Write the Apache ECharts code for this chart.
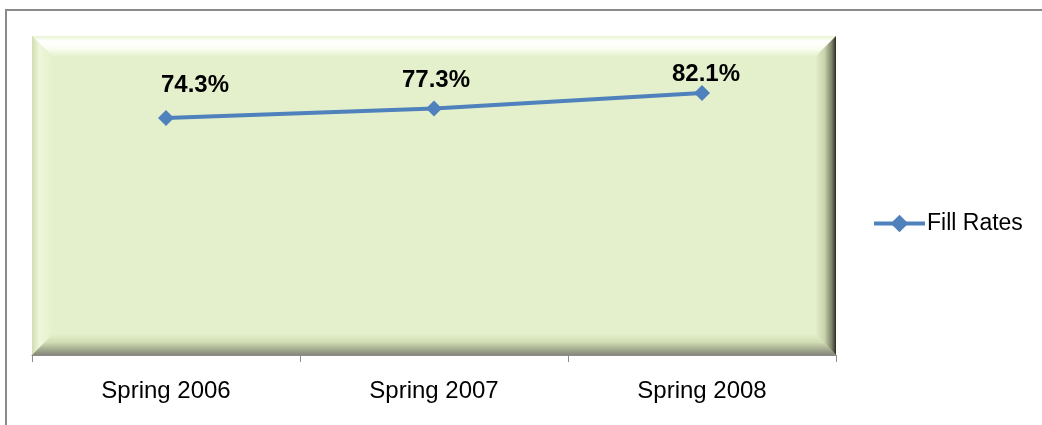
<!DOCTYPE html>
<html>
<head>
<meta charset="utf-8">
<script src="https://cdn.jsdelivr.net/npm/echarts@6/dist/echarts.min.js"></script>
<style>
html,body{margin:0;padding:0;background:#fff;}
#chart{width:1042px;height:425px;}
</style>
</head>
<body>
<div id="chart"></div>
<script>
var categories = ['Spring 2006', 'Spring 2007', 'Spring 2008'];
var fillRates = [74.3, 77.3, 82.1];
var seriesName = 'Fill Rates';

var FONT = '"Liberation Sans", Arial, sans-serif';
var G = { left: 32, top: 36, width: 804, height: 319 };
var B = 21;
var L = G.left, T = G.top, R = G.left + G.width, Bt = G.top + G.height;
var BASE = '#E4F0CB';

// label placement tweaks (visual only)
var labelOffsets = [[29, -8], [2, -3], [4, 6]];

var chart = echarts.init(document.getElementById('chart'));
chart.setOption({
  animation: false,
  backgroundColor: '#fff',
  graphic: [
    { type: 'rect', z: 0, shape: { x: 6, y: 10, width: 1060, height: 440 },
      style: { fill: 'none', stroke: '#8A8A8A', lineWidth: 2 } },
    { type: 'rect', z: 0, shape: { x: L, y: T, width: G.width, height: G.height },
      style: { fill: BASE } },
    { type: 'polygon', z: 0, shape: { points: [[L, T], [R, T], [R - B, T + B], [L + B, T + B]] },
      style: { fill: new echarts.graphic.LinearGradient(0, 0, 0, 1, [
        { offset: 0, color: '#E9F4D2' }, { offset: 0.25, color: '#FFFFFF' },
        { offset: 0.6, color: '#FAFDF1' }, { offset: 1, color: BASE }]) } },
    { type: 'polygon', z: 0, shape: { points: [[L, T], [L + B, T + B], [L + B, Bt - B], [L, Bt]] },
      style: { fill: new echarts.graphic.LinearGradient(0, 0, 1, 0, [
        { offset: 0, color: '#D0DDB2' }, { offset: 0.35, color: '#EEF7DA' },
        { offset: 1, color: BASE }]) } },
    { type: 'polygon', z: 0, shape: { points: [[L, Bt], [L + B, Bt - B], [R - B, Bt - B], [R, Bt]] },
      style: { fill: new echarts.graphic.LinearGradient(0, 0, 0, 1, [
        { offset: 0, color: BASE }, { offset: 0.4, color: '#D0DCB3' },
        { offset: 0.75, color: '#A2A98E' }, { offset: 1, color: '#85877C' }]) } },
    { type: 'polygon', z: 0, shape: { points: [[R, T], [R, Bt], [R - B, Bt - B], [R - B, T + B]] },
      style: { fill: new echarts.graphic.LinearGradient(0, 0, 1, 0, [
        { offset: 0, color: BASE }, { offset: 0.45, color: '#C9D3AE' },
        { offset: 0.8, color: '#7C8268' }, { offset: 1, color: '#2B2B22' }]) } }
  ],
  grid: { left: G.left, top: G.top, width: G.width, height: G.height, containLabel: false },
  legend: {
    orient: 'vertical',
    left: 872,
    top: 212,
    padding: 0,
    itemWidth: 51,
    itemHeight: 22,
    itemGap: 4,
    lineStyle: { width: 4 },
    textStyle: { fontFamily: FONT, fontSize: 23, color: '#000', padding: [0, 0, 0, -3] },
    data: [seriesName]
  },
  xAxis: {
    type: 'category',
    data: categories,
    boundaryGap: true,
    z: 5,
    axisLine: { show: true, lineStyle: { color: '#8C8C8C', width: 1 } },
    axisTick: { show: true, length: 7, lineStyle: { color: '#8C8C8C' } },
    axisLabel: { fontFamily: FONT, fontSize: 24, color: '#000', margin: 24 },
    splitLine: { show: false }
  },
  yAxis: {
    type: 'value', min: 0, max: 100, show: false,
    splitLine: { show: false }
  },
  series: [{
    name: seriesName,
    type: 'line',
    data: fillRates.map(function (v, i) {
      return { value: v, label: { offset: labelOffsets[i] } };
    }),
    symbol: 'diamond',
    symbolSize: 16,
    itemStyle: { color: '#4F81BD' },
    lineStyle: { color: '#4F81BD', width: 4 },
    label: {
      show: true, position: 'top', distance: 5,
      fontFamily: FONT, fontSize: 24, fontWeight: 'bold', color: '#000',
      formatter: function (p) { return p.value.toFixed(1) + '%'; }
    }
  }]
});
</script>
</body>
</html>
